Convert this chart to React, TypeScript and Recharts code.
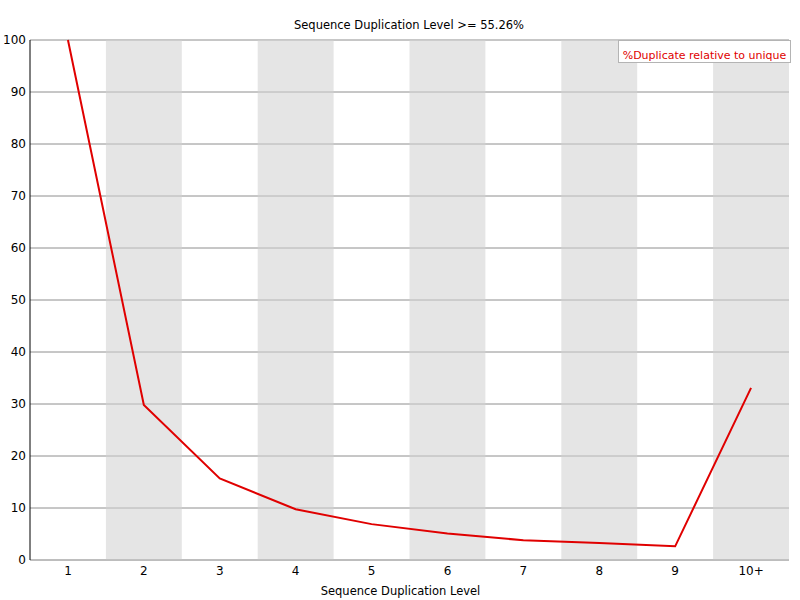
import { LineChart, Line, XAxis, YAxis, CartesianGrid, ReferenceArea, ReferenceLine } from "recharts";

const LEVELS = ["1", "2", "3", "4", "5", "6", "7", "8", "9", "10+"];
const DUPLICATE_PCT = [100, 29.8, 15.7, 9.75, 6.9, 5.1, 3.8, 3.27, 2.63, 33.1];
const Y_TICKS = [0, 10, 20, 30, 40, 50, 60, 70, 80, 90, 100];
const X_TICKS = LEVELS.map((_, i) => i + 1);

const TITLE = "Sequence Duplication Level >= 55.26%";
const X_LABEL = "Sequence Duplication Level";
const SERIES_NAME = "%Duplicate relative to unique";

const FONT = "'DejaVu Sans', sans-serif";
const GRID = "#b4b4b4";
const BAND = "#e5e5e5";
const RED = "#e00000";

const data = LEVELS.map((level, i) => ({ x: i + 1, level, pct: DUPLICATE_PCT[i] }));

// grey bands behind every second level (2, 4, 6, 8, 10+)
const bands = X_TICKS.filter((x) => x % 2 === 0);

export default function App() {
  return (
    <div style={{ position: "absolute", left: 0, top: 0, width: 800, height: 600, background: "#fff", fontFamily: FONT }}>
      <div
        style={{
          position: "absolute",
          top: 18,
          left: 0,
          width: 818,
          textAlign: "center",
          fontSize: 11.5,
          lineHeight: "14px",
          color: "#000",
        }}
      >
        {TITLE}
      </div>
      <LineChart width={800} height={600} data={data} margin={{ top: 40, right: 11, left: 0, bottom: 0 }}>
        {bands.map((x) => (
          <ReferenceArea key={x} x1={x - 0.5} x2={x + 0.5} y1={0} y2={100} fill={BAND} fillOpacity={1} stroke="none" />
        ))}
        <CartesianGrid vertical={false} stroke={GRID} />
        {Y_TICKS.map((y) => (
          <ReferenceLine key={y} y={y} stroke={GRID} />
        ))}
        <XAxis
          dataKey="x"
          type="number"
          domain={[0.5, 10.5]}
          ticks={X_TICKS}
          interval={0}
          tickFormatter={(v: number) => LEVELS[v - 1]}
          height={40}
          tickLine={false}
          tickSize={0}
          tickMargin={6}
          axisLine={{ stroke: GRID }}
          tick={{ fontSize: 12, fill: "#000", fontFamily: FONT }}
          label={{ value: X_LABEL, position: "insideBottom", offset: 5, dx: -9, fontSize: 11.5, fill: "#000", fontFamily: FONT }}
        />
        <YAxis
          domain={[0, 100]}
          ticks={Y_TICKS}
          interval={0}
          width={30}
          tickLine={false}
          tickSize={4}
          tickMargin={0}
          axisLine={{ stroke: "#000" }}
          tick={{ fontSize: 12, fill: "#000", fontFamily: FONT }}
        />
        <Line dataKey="pct" stroke={RED} strokeWidth={2} dot={false} isAnimationActive={false} />
      </LineChart>
      <div
        style={{
          position: "absolute",
          left: 618,
          top: 40,
          width: 173,
          height: 23,
          boxSizing: "border-box",
          border: `1px solid ${GRID}`,
          background: "#fff",
          color: RED,
          fontSize: 11,
          lineHeight: "14px",
          paddingTop: 8,
          textAlign: "center",
          whiteSpace: "nowrap",
        }}
      >
        {SERIES_NAME}
      </div>
    </div>
  );
}
